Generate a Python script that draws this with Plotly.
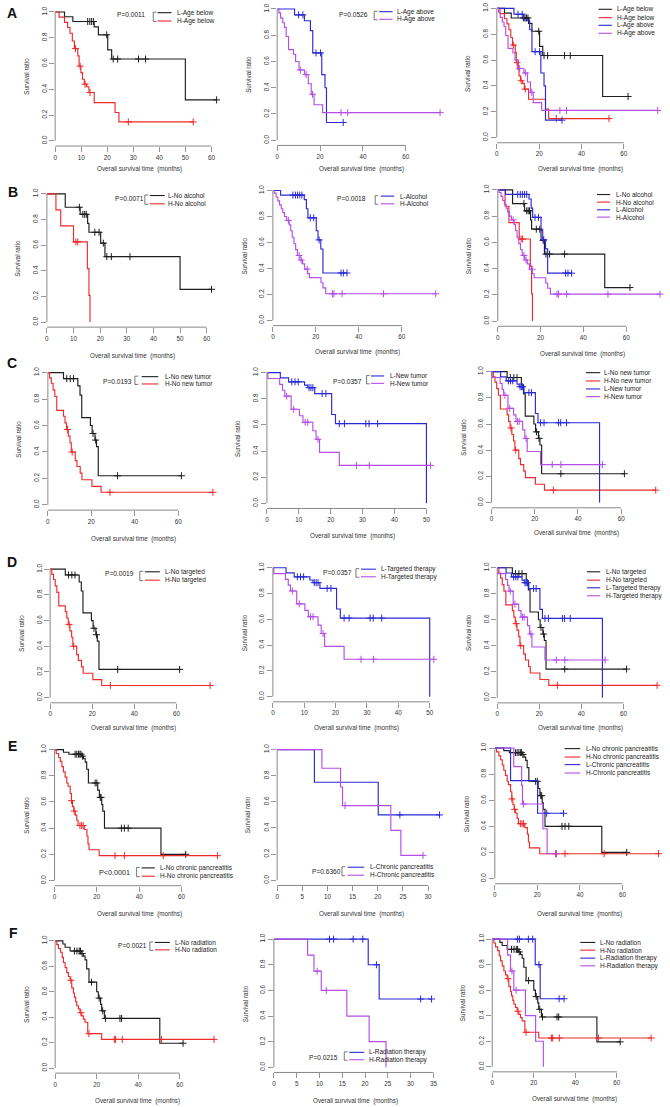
import plotly.graph_objects as go

W, H = 670, 1107
FONT = "Liberation Sans, Arial, sans-serif"

BLACK = "#1e1e1e"
RED = "#ee2a2a"
BLUE = "#2a2ad8"
PURPLE = "#b44ee6"
AXIS_COL = "#7a7a7a"
TXT_COL = "#333333"

# ===================== DATA (months, survival ratio) =====================
# Row A : age
age_below_L_time = [3.6, 6.8, 15.0, 16.6, 20.2, 21.7, 50.0]
age_below_L_surv = [0.963, 0.926, 0.884, 0.823, 0.706, 0.635, 0.318]
age_below_L_cens = [12.5, 13.3, 14.0, 14.7, 19.8, 22.3, 24.0, 32.0, 34.7, 62.0]

age_below_H_time = [1.5, 3.6, 4.8, 5.7, 6.6, 7.4, 8.7, 9.2, 9.9, 10.5, 11.2, 12.1, 13.0, 15.0, 23.0, 24.5]
age_below_H_surv = [0.96, 0.92, 0.88, 0.835, 0.775, 0.716, 0.66, 0.58, 0.53, 0.478, 0.44, 0.42, 0.375, 0.297, 0.22, 0.147]
age_below_H_cens = [7.8, 9.6, 11.5, 13.4, 28.1, 53.0]

age_above_L_time = [8.1, 12.7, 15.5, 16.6, 20.8, 22.3, 23.0]
age_above_L_surv = [0.955, 0.91, 0.835, 0.665, 0.50, 0.40, 0.135]
age_above_L_cens = [10.0, 12.0, 18.1, 20.2, 30.8]

age_above_H_time = [0.8, 1.6, 2.6, 3.4, 4.2, 5.3, 7.6, 8.6, 10.2, 12.8, 14.5, 15.9, 17.2, 21.2]
age_above_H_surv = [0.97, 0.93, 0.895, 0.86, 0.79, 0.69, 0.655, 0.60, 0.535, 0.50, 0.43, 0.35, 0.27, 0.21]
age_above_H_cens = [10.8, 13.5, 16.5, 29.8, 32.9, 76.0]

# Row B : alcohol
noalc_L_time = [6.9, 12.5, 15.3, 15.8, 20.2, 21.8, 50.0]
noalc_L_surv = [0.895, 0.84, 0.77, 0.70, 0.615, 0.51, 0.255]
noalc_L_cens = [12.2, 13.5, 14.2, 14.8, 18.0, 19.6, 21.2, 22.5, 24.2, 31.2, 61.8]

noalc_H_time = [3.4, 5.2, 10.0, 15.2, 15.8, 16.2]
noalc_H_surv = [0.875, 0.75, 0.625, 0.417, 0.208, 0.0]
noalc_H_cens = [10.9, 11.6]

alc_L_time = [3.6, 14.6, 15.6, 16.3, 20.2, 21.0, 22.3, 23.3]
alc_L_surv = [0.965, 0.93, 0.86, 0.79, 0.69, 0.62, 0.55, 0.365]
alc_L_cens = [9.3, 10.5, 11.5, 12.5, 13.5, 17.4, 19.0, 21.5, 31.7, 32.8, 34.5]

alc_H_time = [0.6, 1.5, 2.3, 3.1, 3.9, 4.6, 5.4, 6.4, 7.6, 8.3, 9.0, 9.8, 10.6, 11.4, 12.6,
              13.8, 14.8, 16.2, 17.0, 22.4, 23.3, 24.6]
alc_H_surv = [0.98, 0.95, 0.92, 0.89, 0.86, 0.83, 0.80, 0.77, 0.735, 0.69, 0.64, 0.59, 0.545, 0.50,
              0.465, 0.435, 0.395, 0.36, 0.33, 0.29, 0.25, 0.205]
alc_H_cens = [7.2, 12.2, 13.2, 16.0, 27.7, 28.4, 32.2, 51.5, 75.8]

# Row C / D : new tumor (same cohorts as targeted therapy)
nonew_L_time = [7.2, 13.8, 14.8, 15.6, 19.6, 20.4, 21.7, 22.4, 23.2]
nonew_L_surv = [0.955, 0.90, 0.83, 0.66, 0.60, 0.54, 0.49, 0.44, 0.22]
nonew_L_cens = [8.7, 10.3, 11.8, 20.8, 22.0, 32.1, 61.5]

nonew_H_time = [0.8, 1.6, 2.4, 3.2, 4.1, 7.2, 7.9, 8.6, 9.4, 10.2, 10.8, 12.6, 13.4, 14.9, 15.7, 20.3, 24.5]
nonew_H_surv = [0.96, 0.92, 0.87, 0.82, 0.715, 0.67, 0.62, 0.57, 0.52, 0.47, 0.40, 0.335, 0.29, 0.24,
                0.19, 0.14, 0.095]
nonew_H_cens = [9.0, 11.2, 28.6, 76.0]

new_L_time = [4.2, 6.8, 11.8, 12.8, 15.0, 20.3, 21.5, 50.0]
new_L_surv = [0.96, 0.93, 0.905, 0.885, 0.84, 0.68, 0.61, 0.0]
new_L_cens = [7.8, 8.8, 9.8, 13.2, 13.8, 14.4, 17.3, 18.5, 22.7, 24.3, 31.0, 32.0, 34.7]

new_H_time = [0.3, 4.0, 4.9, 5.6, 7.6, 10.2, 11.3, 14.4, 15.4, 16.5, 22.7]
new_H_surv = [0.955, 0.91, 0.865, 0.82, 0.72, 0.67, 0.62, 0.555, 0.49, 0.39, 0.29]
new_H_cens = [6.2, 8.4, 12.0, 12.8, 16.0, 28.1, 32.1, 51.3]

# Row E : chronic pancreatitis
nocp_L_time = [4.2, 6.8, 12.9, 13.7, 14.5, 15.2, 16.0, 20.4, 21.2, 22.3, 22.8, 23.6, 50.3]
nocp_L_surv = [0.98, 0.965, 0.95, 0.93, 0.905, 0.85, 0.745, 0.69, 0.635, 0.58, 0.53, 0.40, 0.20]
nocp_L_cens = [9.7, 10.5, 11.3, 12.0, 12.5, 13.2, 19.2, 20.0, 21.6, 22.0, 31.6, 33.0, 34.8, 62.0]

nocp_H_time = [0.8, 1.9, 2.7, 3.5, 4.2, 5.0, 5.8, 6.4, 7.4, 8.0, 8.5, 9.1, 9.8, 10.5, 11.1,
               14.1, 15.3, 15.8, 16.3, 21.1]
nocp_H_surv = [0.97, 0.94, 0.91, 0.87, 0.83, 0.79, 0.745, 0.72, 0.665, 0.61, 0.565, 0.53, 0.50,
               0.46, 0.42, 0.39, 0.34, 0.28, 0.235, 0.19]
nocp_H_cens = [8.0, 9.3, 12.0, 12.8, 13.5, 28.6, 33.0, 51.4, 77.0]

cp_L_time = [7.4, 20.1]
cp_L_surv = [0.75, 0.50]
cp_L_cens = [24.4, 32.3]

cp_H_time = [8.9, 12.6, 13.0, 22.6, 24.6]
cp_H_surv = [0.857, 0.714, 0.571, 0.381, 0.19]
cp_H_cens = [13.5, 29.0]

# Row F : radiation
norad_L_time = [3.7, 4.8, 7.2, 12.5, 13.6, 14.4, 15.2, 16.3, 20.0, 20.8, 21.9, 22.4, 23.7, 50.4]
norad_L_surv = [0.975, 0.95, 0.92, 0.90, 0.88, 0.85, 0.78, 0.675, 0.60, 0.55, 0.50, 0.45, 0.39, 0.195]
norad_L_cens = [9.3, 10.5, 11.6, 12.2, 13.0, 17.5, 21.2, 22.9, 24.2, 31.2, 32.0, 61.6]

norad_H_time = [0.8, 1.6, 2.6, 3.4, 4.0, 4.8, 5.6, 6.4, 7.2, 8.0, 8.8, 9.3, 9.9, 10.4, 11.2, 12.0,
                12.8, 13.6, 14.4, 15.7, 22.4]
norad_H_surv = [0.97, 0.94, 0.91, 0.87, 0.83, 0.79, 0.75, 0.72, 0.69, 0.63, 0.59, 0.555, 0.52, 0.49,
                0.465, 0.435, 0.41, 0.385, 0.36, 0.27, 0.225]
norad_H_cens = [7.6, 12.4, 16.3, 28.5, 29.1, 32.3, 51.2, 76.5]

rad_L_time = [20.7, 23.1]
rad_L_surv = [0.80, 0.533]
rad_L_cens = [12.2, 13.1, 17.4, 19.5, 22.5, 32.2, 34.6]

rad_H_time = [7.4, 8.8, 10.4, 16.0, 20.9, 24.6]
rad_H_surv = [0.875, 0.75, 0.60, 0.40, 0.20, 0.0]
rad_H_cens = [9.5, 11.5]

# labels / p values
row_letters = ["A", "B", "C", "D", "E", "F"]
labels_A = ["L-Age below", "H-Age below", "L-Age above", "H-Age above"]
labels_B = ["L-No alcohol", "H-No alcohol", "L-Alcohol", "H-Alcohol"]
labels_C = ["L-No new tumor", "H-No new tumor", "L-New tumor", "H-New tumor"]
labels_D = ["L-No targeted", "H-No targeted", "L-Targeted therapy", "H-Targeted therapy"]
labels_E = ["L-No chronic pancreatitis", "H-No chronic pancreatitis", "L-Chronic pancreatitis",
            "H-Chronic pancreatitis"]
labels_F = ["L-No radiation", "H-No radiation", "L-Radiation therapy", "H-Radiation therapy"]
pvals = [["P=0.0011", "P=0.0526"], ["P=0.0071", "P=0.0018"], ["P=0.0193", "P=0.0357"],
         ["P=0.0019", "P=0.0357"], ["P<0.0001", "P=0.6360"], ["P=0.0021", "P=0.0215"]]

ticks60 = [0, 10, 20, 30, 40, 50, 60]
ticks60b = [0, 20, 40, 60]
ticks50 = [0, 10, 20, 30, 40, 50]
ticks30 = [0, 5, 10, 15, 20, 25, 30]
ticks35 = [0, 5, 10, 15, 20, 25, 30, 35]
yticks = [0, 0.2, 0.4, 0.6, 0.8, 1.0]

# ===================== curve records =====================
C = {
    "abL": (age_below_L_time, age_below_L_surv, age_below_L_cens, BLACK),
    "abH": (age_below_H_time, age_below_H_surv, age_below_H_cens, RED),
    "aaL": (age_above_L_time, age_above_L_surv, age_above_L_cens, BLUE),
    "aaH": (age_above_H_time, age_above_H_surv, age_above_H_cens, PURPLE),
    "naL": (noalc_L_time, noalc_L_surv, noalc_L_cens, BLACK),
    "naH": (noalc_H_time, noalc_H_surv, noalc_H_cens, RED),
    "alL": (alc_L_time, alc_L_surv, alc_L_cens, BLUE),
    "alH": (alc_H_time, alc_H_surv, alc_H_cens, PURPLE),
    "nnL": (nonew_L_time, nonew_L_surv, nonew_L_cens, BLACK),
    "nnH": (nonew_H_time, nonew_H_surv, nonew_H_cens, RED),
    "nwL": (new_L_time, new_L_surv, new_L_cens, BLUE),
    "nwH": (new_H_time, new_H_surv, new_H_cens, PURPLE),
    "ncL": (nocp_L_time, nocp_L_surv, nocp_L_cens, BLACK),
    "ncH": (nocp_H_time, nocp_H_surv, nocp_H_cens, RED),
    "cpL": (cp_L_time, cp_L_surv, cp_L_cens, BLUE),
    "cpH": (cp_H_time, cp_H_surv, cp_H_cens, PURPLE),
    "nrL": (norad_L_time, norad_L_surv, norad_L_cens, BLACK),
    "nrH": (norad_H_time, norad_H_surv, norad_H_cens, RED),
    "rdL": (rad_L_time, rad_L_surv, rad_L_cens, BLUE),
    "rdH": (rad_H_time, rad_H_surv, rad_H_cens, PURPLE),
}

# ===================== panel layout (pixels) =====================
# L: x pixel of time 0, s: px per month, y1/y0: pixel of survival 1.0 / 0.0, xt: x-title y
# leg: (p_cx, p_cy, bracket_x0, bracket_x1, line_x0, line_x1, text_x, row_ys)
PANELS = [
    dict(L=53.3, s=2.612, y1=11, y0=140, ticks=ticks60, xt=168, curves=["abL", "abH"], labels=labels_A[:2],
         p=pvals[0][0], leg=(129.3, 13.3, 151.7, 155, 156, 170, 176, [11.7, 20])),
    dict(L=276, s=2.15, y1=8, y0=139.3, ticks=ticks60b, xt=167.7, curves=["aaL", "aaH"], labels=labels_A[2:],
         p=pvals[0][1], leg=(353, 13.3, 373.3, 376.7, 378.3, 391.7, 395.7, [10.7, 18.3])),
    dict(L=496.3, s=2.123, y1=7.4, y0=136.7, ticks=ticks60b, xt=167.7, curves=["abL", "abH", "aaL", "aaH"],
         labels=labels_A, p=None, leg=(0, 0, 0, 0, 598.3, 611.7, 616.7, [8.3, 16.7, 24.3, 32.3])),

    dict(L=45, s=2.672, y1=193, y0=321.3, ticks=ticks60, xt=355.7, curves=["naL", "naH"], labels=labels_B[:2],
         p=pvals[1][0], leg=(128, 198, 143.3, 146.7, 148.3, 163.3, 166, [194.7, 203])),
    dict(L=271.7, s=2.155, y1=189.7, y0=319.7, ticks=ticks60b, xt=351.3, curves=["alL", "alH"], labels=labels_B[2:],
         p=pvals[1][1], leg=(351, 198, 374.3, 377.2, 380, 393.3, 399.3, [195.3, 203])),
    dict(L=497.3, s=2.145, y1=189, y0=320.3, ticks=ticks60b, xt=353.7, curves=["naL", "naH", "alL", "alH"],
         labels=labels_B, p=None, leg=(0, 0, 0, 0, 596.7, 610, 616, [193.7, 201.3, 209, 216.3])),

    dict(L=46, s=2.178, y1=372, y0=504.3, ticks=ticks60b, xt=538.7, curves=["nnL", "nnH"], labels=labels_C[:2],
         p=pvals[2][0], leg=(116, 381, 133.3, 136.7, 140, 156.7, 163.3, [376, 383.3])),
    dict(L=265.7, s=3.2, y1=372, y0=502.7, ticks=ticks50, xt=535.3, curves=["nwL", "nwH"], labels=labels_C[2:],
         p=pvals[2][1], leg=(347, 381, 365.7, 368.7, 370, 383.3, 389, [375.3, 382.7])),
    dict(L=491, s=2.167, y1=371, y0=502, ticks=ticks60b, xt=532, curves=["nnL", "nnH", "nwL", "nwH"],
         labels=labels_C, p=None, leg=(0, 0, 0, 0, 585.7, 600, 604.3, [372, 380.3, 388.3, 396])),

    dict(L=48.3, s=2.111, y1=568.7, y0=697.3, ticks=ticks60b, xt=728, curves=["nnL", "nnH"], labels=labels_D[:2],
         p=pvals[3][0], leg=(117.5, 573, 138.3, 141.7, 143.3, 158.3, 163.3, [571.3, 579.7])),
    dict(L=271.7, s=3.146, y1=567.3, y0=696.3, ticks=ticks50, xt=728, curves=["nwL", "nwH"], labels=labels_D[2:],
         p=pvals[3][1], leg=(337, 572, 355, 358.3, 360, 375, 380, [568.7, 576.3])),
    dict(L=496.7, s=2.11, y1=567.3, y0=697.3, ticks=ticks60b, xt=728, curves=["nnL", "nnH", "nwL", "nwH"],
         labels=labels_D, p=None, leg=(0, 0, 0, 0, 586.7, 600, 605.7, [571.3, 579.7, 587.3, 595.3])),

    dict(L=52.7, s=2.122, y1=749.3, y0=880.3, ticks=ticks60b, xt=913.7, curves=["ncL", "ncH"], labels=labels_E[:2],
         p=pvals[4][0], leg=(113.3, 872.7, 135, 138.3, 140, 153.3, 158.3, [867.7, 876]), pbig=True),
    dict(L=276, s=5.043, y1=749.3, y0=880, ticks=ticks30, xt=913.7, curves=["cpL", "cpH"], labels=labels_E[2:],
         p=pvals[4][1], leg=(325, 871, 341, 344.3, 346.7, 363.3, 369.3, [867, 875])),
    dict(L=494.3, s=2.133, y1=747.7, y0=878.3, ticks=ticks60b, xt=913.7, curves=["ncL", "ncH", "cpL", "cpH"],
         labels=labels_E, p=None, leg=(0, 0, 0, 0, 564.3, 580, 585.7, [748.3, 756.7, 764.3, 772.7])),

    dict(L=53.3, s=2.083, y1=940.7, y0=1068, ticks=ticks60b, xt=1101, curves=["nrL", "nrH"], labels=labels_F[:2],
         p=pvals[5][0], leg=(130.8, 945.7, 148.3, 151.7, 153.3, 168.3, 173.3, [942.3, 949.7])),
    dict(L=272.7, s=4.571, y1=939, y0=1067.3, ticks=ticks35, xt=1101, curves=["rdL", "rdH"], labels=labels_F[2:],
         p=pvals[5][1], leg=(322, 1057.3, 343.3, 346.7, 348.3, 363.3, 368.3, [1052.3, 1059.7])),
    dict(L=491.7, s=2.083, y1=939, y0=1066.7, ticks=ticks60b, xt=1099, curves=["nrL", "nrH", "rdL", "rdH"],
         labels=labels_F, p=None, leg=(0, 0, 0, 0, 580, 595, 600, [942.3, 950, 958, 965.7])),
]

letter_pos = [(10, 12), (11, 191), (10, 362), (10.5, 562), (11, 746), (12, 933)]


def px_x(px):
    return px / W


def px_y(py):
    return 1 - py / H


def surv_at(times, survs, t):
    s = 1.0
    for ti, si in zip(times, survs):
        if ti <= t:
            s = si
    return s


fig = go.Figure()
layout = {}
shapes = []
annotations = []
TICKFONT = dict(family=FONT, size=6.3, color=TXT_COL)

for i, p in enumerate(PANELS, start=1):
    xa = "x" if i == 1 else f"x{i}"
    ya = "y" if i == 1 else f"y{i}"
    xmax = max(max(C[k][0] + C[k][2]) for k in p["curves"])
    xr = 1.04 * xmax
    h = p["y0"] - p["y1"]
    layout["xaxis" if i == 1 else f"xaxis{i}"] = dict(
        domain=[px_x(p["L"]), px_x(p["L"] + xr * p["s"])], range=[0, xr], anchor=ya,
        tickvals=p["ticks"], ticktext=[str(t) for t in p["ticks"]], showgrid=False, zeroline=False,
        showline=False, ticks="outside", ticklen=5, tickwidth=0.8, tickcolor=AXIS_COL, tickfont=TICKFONT,
    )
    layout["yaxis" if i == 1 else f"yaxis{i}"] = dict(
        domain=[px_y(p["y0"] + 0.04 * h), px_y(p["y1"] - 0.04 * h)], range=[-0.04, 1.04], anchor=xa,
        tickvals=yticks, ticktext=[f"{v:.1f}" for v in yticks], tickangle=-90, showgrid=False, zeroline=False,
        showline=False, ticks="outside", ticklen=5, tickwidth=0.8, tickcolor=AXIS_COL, tickfont=TICKFONT,
    )
    # R-style axis lines (from first to last tick)
    shapes.append(dict(type="line", xref=xa, yref=f"{ya} domain", x0=0, x1=p["ticks"][-1], y0=0, y1=0,
                       line=dict(color=AXIS_COL, width=0.9)))
    shapes.append(dict(type="line", xref=f"{xa} domain", yref=ya, x0=0, x1=0, y0=0, y1=1,
                       line=dict(color=AXIS_COL, width=0.9)))

    for k in p["curves"]:
        t, s, c, col = C[k]
        xs = [0] + list(t)
        ys = [1.0] + list(s)
        if c and max(c) > xs[-1]:
            xs.append(max(c))
            ys.append(ys[-1])
        fig.add_trace(go.Scatter(x=xs, y=ys, mode="lines", line=dict(color=col, width=1.15, shape="hv"),
                                 xaxis=xa, yaxis=ya, showlegend=False, hoverinfo="skip"))
        fig.add_trace(go.Scatter(x=list(c), y=[surv_at(t, s, v) for v in c], mode="markers",
                                 marker=dict(symbol="cross-thin", size=5, line=dict(color=col, width=1)),
                                 xaxis=xa, yaxis=ya, showlegend=False, hoverinfo="skip"))

    # axis titles
    annotations.append(dict(text="Survival ratio", xref="paper", yref="paper", x=px_x(p["L"] - 29),
                            y=px_y((p["y0"] + p["y1"]) / 2), textangle=-90, showarrow=False,
                            xanchor="center", yanchor="middle", font=dict(family=FONT, size=6.3, color=TXT_COL)))
    annotations.append(dict(text="Overall survival time\u00a0 (months)", xref="paper", yref="paper",
                            x=px_x(p["L"] + xr * p["s"] / 2), y=px_y(p["xt"]), showarrow=False,
                            xanchor="center", yanchor="middle", font=dict(family=FONT, size=6.3, color=TXT_COL)))

    # legend
    pcx, pcy, bx0, bx1, lx0, lx1, tx, rows = p["leg"]
    cols = [C[k][3] for k in p["curves"]]
    for lab, col, ry in zip(p["labels"], cols, rows):
        shapes.append(dict(type="line", xref="paper", yref="paper", x0=px_x(lx0), x1=px_x(lx1),
                           y0=px_y(ry), y1=px_y(ry), line=dict(color=col, width=1.1)))
        annotations.append(dict(text=lab, xref="paper", yref="paper", x=px_x(tx), y=px_y(ry), showarrow=False,
                                xanchor="left", yanchor="middle", borderpad=0, borderwidth=0,
                                font=dict(family=FONT, size=6.5, color="#222")))
    if p["p"]:
        fs = 7.2 if p.get("pbig") else 6.6
        annotations.append(dict(text=p["p"], xref="paper", yref="paper", x=px_x(pcx), y=px_y(pcy),
                                showarrow=False, xanchor="center", yanchor="middle",
                                font=dict(family=FONT, size=fs, color="#222")))
        top, bot = rows[0] - 0.5, rows[1] + 0.5
        path = (f"M {px_x(bx1)},{px_y(top)} L {px_x(bx0)},{px_y(top)} "
                f"L {px_x(bx0)},{px_y(bot)} L {px_x(bx1)},{px_y(bot)}")
        shapes.append(dict(type="path", xref="paper", yref="paper", path=path,
                           line=dict(color="#555", width=0.8)))

for letter, (lx, ly) in zip(row_letters, letter_pos):
    annotations.append(dict(text=f"<b>{letter}</b>", xref="paper", yref="paper", x=px_x(lx), y=px_y(ly),
                            showarrow=False, xanchor="center", yanchor="middle",
                            font=dict(family=FONT, size=14, color="#111")))

fig.update_layout(width=W, height=H, autosize=False, margin=dict(l=0, r=0, t=0, b=0),
                  paper_bgcolor="white", plot_bgcolor="white", shapes=shapes, annotations=annotations,
                  showlegend=False, hovermode=False, **layout)
fig.write_html("out.html", config={"displayModeBar": False, "staticPlot": True},
               post_script="document.body.style.margin='0';document.body.style.overflow='hidden';")
